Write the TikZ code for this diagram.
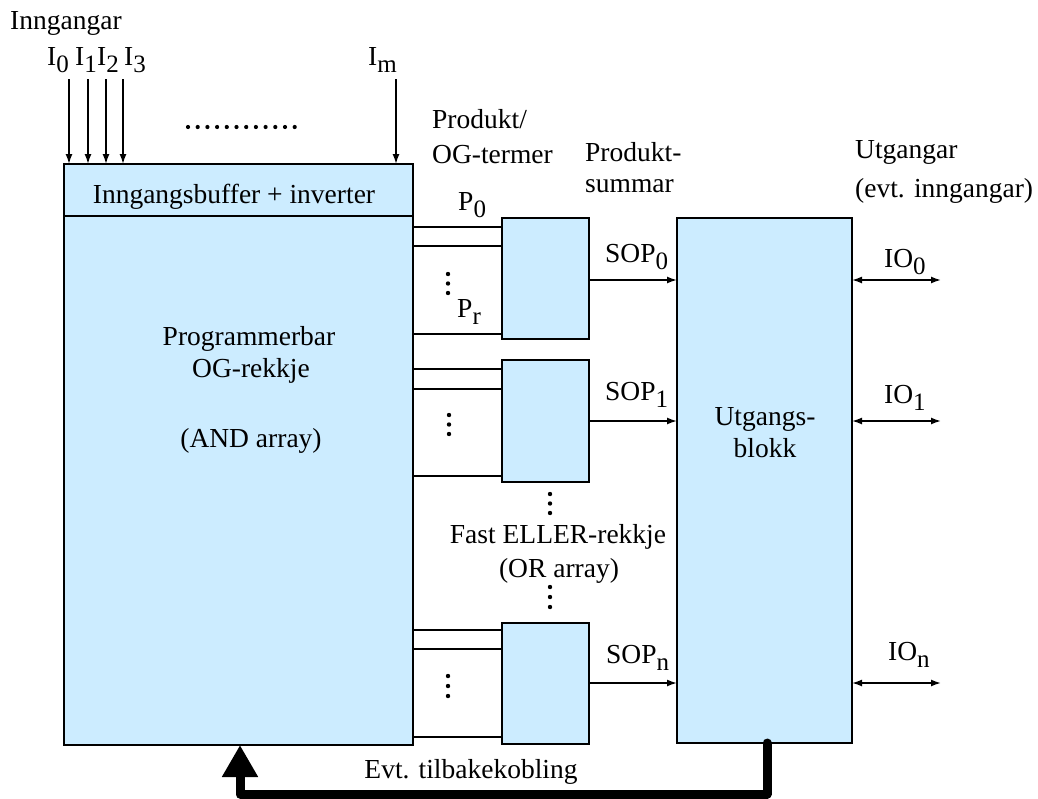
\documentclass[tikz,border=0pt]{standalone}
\usepackage{fontspec}
\setmainfont{Liberation Serif}
\usetikzlibrary{arrows.meta}
\definecolor{boxblue}{HTML}{CCECFF}
\newcommand{\sbs}[1]{\raisebox{-7pt}{\fontsize{25}{25}\selectfont #1}}
\begin{document}
\begin{tikzpicture}[x=1pt,y=-1pt,
  font=\fontsize{27.5}{32}\selectfont,
  blk/.style={draw, line width=2pt, fill=boxblue, inner sep=0pt, outer sep=0pt},
  lbl/.style={inner sep=0pt, anchor=base west},
  clbl/.style={inner sep=0pt, anchor=base},
  arr/.style={line width=1.6pt, -{Latex[length=10pt,width=7pt]}},
  darr/.style={line width=1.6pt, {Latex[length=10pt,width=7pt]}-{Latex[length=10pt,width=7pt]}},
  pline/.style={line width=1.8pt},
  fb/.style={line width=9pt, line cap=round, line join=round, -{Triangle[length=32pt,width=34pt]}},
  vdot/.style={fill=black}]
\useasboundingbox (0,0) rectangle (1038,798);

% boxes
\node[blk, minimum width=349pt, minimum height=52pt] (buf) at (238.5,190) {};
\node[blk, minimum width=349pt, minimum height=529pt] (and) at (238.5,480.5) {};
\node[blk, minimum width=87pt, minimum height=121pt] (or0) at (545.5,278) {};
\node[blk, minimum width=87pt, minimum height=122pt] (or1) at (545.5,421) {};
\node[blk, minimum width=87pt, minimum height=121pt] (orn) at (545.5,683.5) {};
\node[blk, minimum width=175pt, minimum height=525pt] (out) at (764.5,480.5) {};

% box texts
\node[clbl] (tbuf) at (234,203) {Inngangsbuffer + inverter};
\node[clbl] (tand1) at (249,345) {Programmerbar};
\node[clbl] (tand2) at (251,377) {OG-rekkje};
\node[clbl] (tand3) at (251,447) {(AND array)};
\node[clbl] (tout1) at (765,425) {Utgangs-};
\node[clbl] (tout2) at (765,457) {blokk};

% inputs
\node[lbl] (tin) at (10,29) {Inngangar};
\node[lbl] (lI0) at (47,65) {I\sbs{0}};
\node[lbl] (lI1) at (75,65) {I\sbs{1}};
\node[lbl] (lI2) at (97,65) {I\sbs{2}};
\node[lbl] (lI3) at (124,65) {I\sbs{3}};
\node[lbl] (lIm) at (368,65) {I\sbs{m}};
\coordinate (i0) at (69,79);
\coordinate (i1) at (88,79);
\coordinate (i2) at (106,79);
\coordinate (i3) at (123,79);
\coordinate (im) at (396,79);
\foreach \c in {i0,i1,i2,i3,im}{\draw[arr] (\c) -- (buf.north -| \c);}
\foreach \k in {0,...,11}{\fill (188+\k*9.7,127) circle (2.1pt);}

% headings
\node[lbl] (h1a) at (432,128) {Produkt/};
\node[lbl] (h1b) at (432,163) {OG-termer};
\node[lbl] (h2a) at (585,161) {Produkt-};
\node[lbl] (h2b) at (585,192) {summar};
\node[lbl] (h3a) at (855,158) {Utgangar};
\node[lbl] (h3b) at (855,197) {(evt. inngangar)};

% product lines
\foreach \y in {227,246,334}{\draw[pline] (and.east |- 0,\y) -- (or0.west |- 0,\y);}
\foreach \y in {369,389,476}{\draw[pline] (and.east |- 0,\y) -- (or1.west |- 0,\y);}
\foreach \y in {630,649,737}{\draw[pline] (and.east |- 0,\y) -- (orn.west |- 0,\y);}
\node[lbl] (lP0) at (458,210) {P\sbs{0}};
\node[lbl] (lPr) at (457,317) {P\sbs{r}};
\foreach \y in {274,283.5,293}{\fill (448,\y) circle (2.2pt);}
\foreach \y in {415,424.5,434}{\fill (449,\y) circle (2.2pt);}
\foreach \y in {676,686,696}{\fill (448,\y) circle (2.2pt);}
\foreach \y in {494,503.5,513}{\fill (550,\y) circle (2.2pt);}
\foreach \y in {587,597,607}{\fill (550,\y) circle (2.2pt);}
\node[clbl] (tor1) at (558,543) {Fast ELLER-rekkje};
\node[clbl] (tor2) at (559,577) {(OR array)};

% SOP arrows
\draw[arr] (or0.east |- 0,280) -- (out.west |- 0,280);
\draw[arr] (or1.east |- 0,421) -- (out.west |- 0,421);
\draw[arr] (orn.east |- 0,683) -- (out.west |- 0,683);
\node[lbl] (lS0) at (605,262) {SOP\sbs{0}};
\node[lbl] (lS1) at (605,400) {SOP\sbs{1}};
\node[lbl] (lSn) at (606,663) {SOP\sbs{n}};

% IO arrows
\coordinate (o0) at (941,280);
\coordinate (o1) at (941,421);
\coordinate (on) at (941,683);
\draw[darr] (out.east |- o0) -- (o0);
\draw[darr] (out.east |- o1) -- (o1);
\draw[darr] (out.east |- on) -- (on);
\node[lbl] (lO0) at (884,267) {IO\sbs{0}};
\node[lbl] (lO1) at (884,403) {IO\sbs{1}};
\node[lbl] (lOn) at (888,660) {IO\sbs{n}};

% feedback
\coordinate (fbs) at (767,743);
\coordinate (fbe) at (240,745);
\draw[fb] (fbs) -- (767,794) -- (240,794) -- (fbe);
\node[clbl] (tfb) at (471,778) {Evt. tilbakekobling};
\end{tikzpicture}
\end{document}
